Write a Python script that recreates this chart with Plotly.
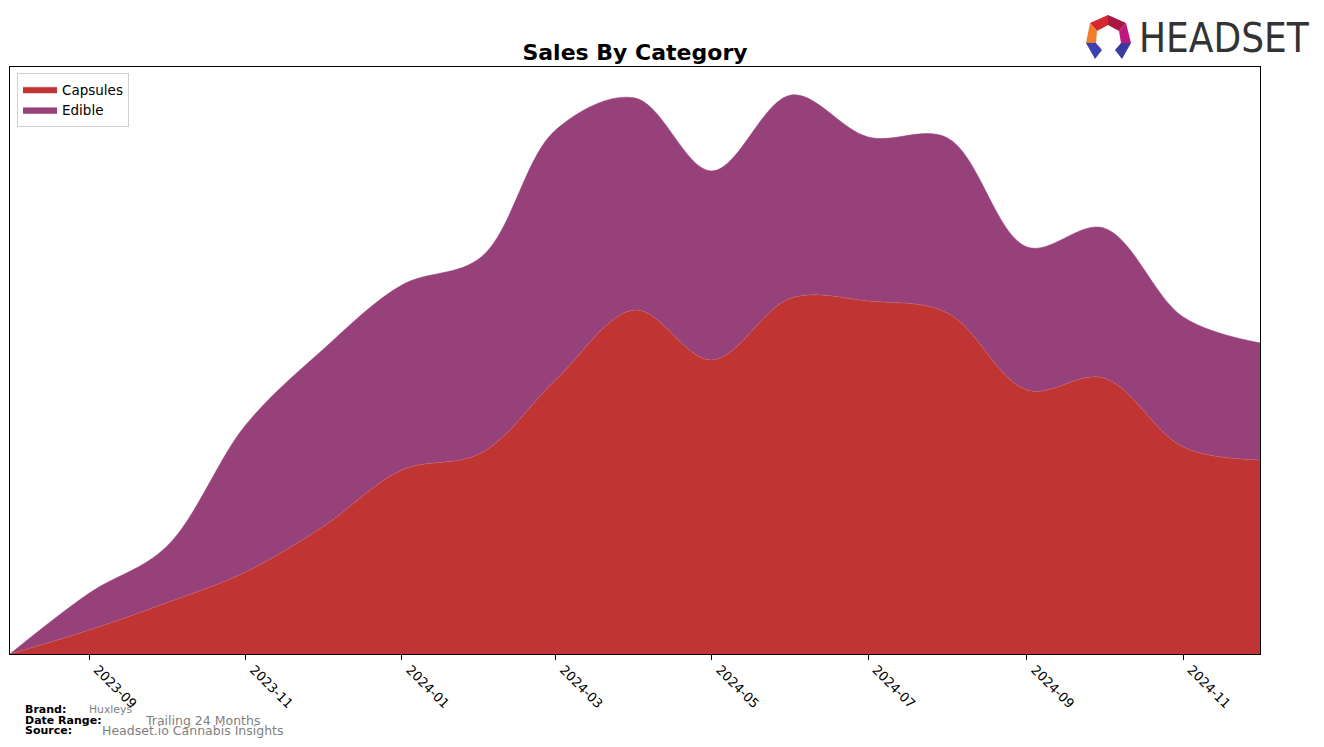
import plotly.graph_objects as go

# ---- data ----
months = ["2023-08-01", "2023-09-01", "2023-10-01", "2023-11-01", "2023-12-01",
          "2024-01-01", "2024-02-01", "2024-03-01", "2024-04-01", "2024-05-01",
          "2024-06-01", "2024-07-01", "2024-08-01", "2024-09-01", "2024-10-01",
          "2024-11-01", "2024-12-01"]
capsules = [0, 24, 51, 82, 127, 184, 201, 274, 344, 294, 356, 353, 341, 264, 276, 207, 194]
edible = [0, 37, 56, 147, 177, 185, 196, 250, 212, 189, 203, 164, 175, 143, 150, 130, 117]

tick_vals = ["2023-09-01", "2023-11-01", "2024-01-01", "2024-03-01",
             "2024-05-01", "2024-07-01", "2024-09-01", "2024-11-01"]
tick_text = ["2023-09", "2023-11", "2024-01", "2024-03",
             "2024-05", "2024-07", "2024-09", "2024-11"]

RED = "#C03433"
PURPLE = "#96417A"

OFF = 8  # page body margin
W, H = 1324 - OFF, 747 - OFF
L, R, T, B = 10 - OFF, 1260 - OFF, 67 - OFF, 654 - OFF  # plot area in figure pixels


def px(x, y):
    """reference-picture pixel -> paper coords"""
    x -= OFF
    y -= OFF
    return (x - L) / (R - L), (B - y) / (B - T)


fig = go.Figure()
fig.add_trace(go.Scatter(x=months, y=capsules, name="Capsules", stackgroup="one",
                         mode="lines", line=dict(shape="spline", smoothing=1.0, width=0.6,
                                                 color="#c75a5f"),
                         fillcolor=RED))
fig.add_trace(go.Scatter(x=months, y=edible, name="Edible", stackgroup="one",
                         mode="lines", line=dict(shape="spline", smoothing=1.0, width=0.6,
                                                 color=PURPLE),
                         fillcolor=PURPLE))

fig.update_layout(
    width=W, height=H,
    margin=dict(l=L, r=W - R, t=T, b=H - B, pad=0),
    paper_bgcolor="white", plot_bgcolor="white",
    font=dict(family="DejaVu Sans", color="black"),
    title=dict(text="<b>Sales By Category</b>", x=(635 - OFF) / W,
               xanchor="center", xref="container", y=1 - (52 - OFF) / H, yanchor="middle",
               yref="container", font=dict(size=22, family="DejaVu Sans", color="black")),
    showlegend=True,
    legend=dict(x=px(17, 0)[0], y=px(0, 73)[1], xanchor="left", yanchor="top",
                bgcolor="white", bordercolor="#d0d0d0", borderwidth=1,
                font=dict(size=13.5, family="DejaVu Sans"), traceorder="normal",
                itemwidth=34, tracegroupgap=0),
    xaxis=dict(range=["2023-08-01", "2024-12-01"], tickvals=tick_vals, ticktext=tick_text,
               tickangle=45, ticks="outside", ticklen=5, tickcolor="black",
               ticklabelshift=8, ticklabelstandoff=-3,
               showline=True, linecolor="black", linewidth=1, mirror=True,
               showgrid=False, zeroline=False,
               tickfont=dict(size=13, family="DejaVu Sans", color="black")),
    yaxis=dict(range=[0, 587], showticklabels=False, ticks="", showgrid=False,
               zeroline=False, showline=True, linecolor="black", linewidth=1, mirror=True),
)

# ---- footer ----
def ann(text, x, y, size, color, bold=False):
    xp, yp = px(x, y)
    fig.add_annotation(text=f"<b>{text}</b>" if bold else text, x=xp, y=yp,
                       xref="paper", yref="paper", xanchor="left", yanchor="middle",
                       showarrow=False, font=dict(size=size, color=color, family="DejaVu Sans"))

ann("Brand:", 23, 709, 11, "black", True)
ann("Date Range:", 23, 720, 11, "black", True)
ann("Source:", 23, 730, 11, "black", True)
ann("Huxleys", 87, 709, 10.8, "#808080")
ann("Trailing 24 Months", 143, 720, 12.5, "#808080")
ann("Headset.io Cannabis Insights", 100, 730, 12.5, "#808080")

# ---- logo ----
polys = [
    ([(1090, 23), (1108, 15), (1108, 25), (1097, 31)], "#D6262E"),
    ([(1108, 15), (1126, 23), (1119, 31), (1108, 25)], "#A9163F"),
    ([(1090, 23), (1097, 31), (1096, 43), (1086, 43)], "#F07D2B"),
    ([(1126, 23), (1131, 43), (1121, 43), (1119, 31)], "#BF1680"),
    ([(1086, 43), (1096, 43), (1102, 50), (1095, 59)], "#3B3FB0"),
    ([(1121, 43), (1131, 43), (1122, 59), (1115, 50)], "#3A3AA0"),
]
for pts, col in polys:
    path = "M " + " L ".join(f"{px(x, y)[0]:.5f},{px(x, y)[1]:.5f}" for x, y in pts) + " Z"
    fig.add_shape(type="path", path=path, xref="paper", yref="paper",
                  fillcolor=col, line=dict(width=0), layer="above")

lx, ly = px(1137, 38)
fig.add_annotation(text="HEADSET", x=lx, y=ly, xref="paper", yref="paper",
                   xanchor="left", yanchor="middle", showarrow=False,
                   font=dict(size=40, color="#333333",
                             family="DejaVu Sans Condensed, Roboto, sans-serif"))

fig.write_html("out.html")
